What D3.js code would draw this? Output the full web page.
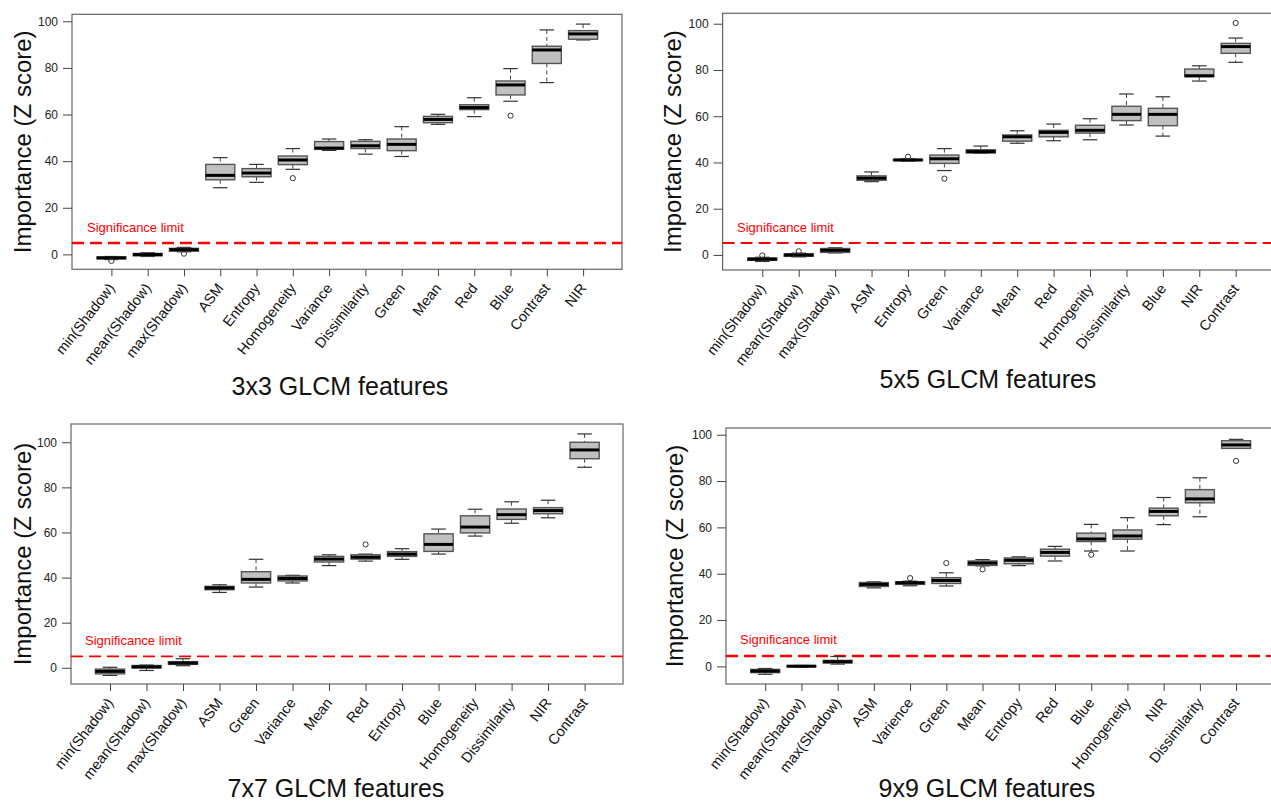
<!DOCTYPE html>
<meta charset="utf-8">
<script src="https://cdn.jsdelivr.net/npm/d3@7"></script>
<style>
    body { margin: 0; background: #fff; }
    text { font-family: 'Liberation Sans', Arial, sans-serif; }
</style>
<div id="chart"></div>
<script>
    // feature names per window size (in plotted order)
    let features3 = ["min(Shadow)", "mean(Shadow)", "max(Shadow)", "ASM", "Entropy", "Homogeneity",
        "Variance", "Dissimilarity", "Green", "Mean", "Red", "Blue", "Contrast", "NIR"];
    let features5 = ["min(Shadow)", "mean(Shadow)", "max(Shadow)", "ASM", "Entropy", "Green",
        "Variance", "Mean", "Red", "Homogenity", "Dissimilarity", "Blue", "NIR", "Contrast"];
    let features7 = ["min(Shadow)", "mean(Shadow)", "max(Shadow)", "ASM", "Green", "Variance",
        "Mean", "Red", "Entropy", "Blue", "Homogeneity", "Dissimilarity", "NIR", "Contrast"];
    let features9 = ["min(Shadow)", "mean(Shadow)", "max(Shadow)", "ASM", "Varience", "Green",
        "Mean", "Entropy", "Red", "Blue", "Homogeneity", "NIR", "Dissimilarity", "Contrast"];

    // [lower whisker, q1, median, q3, upper whisker]
    let stats3 = [[-2.2, -1.9, -1.5, -1.1, -0.9], [-0.9, -0.6, -0.1, 0.4, 0.7], [1.1, 1.4, 2.0, 2.6, 3.0],
        [28.6, 32.0, 33.9, 38.6, 41.5], [30.9, 33.3, 34.9, 36.8, 38.6], [36.5, 38.5, 40.5, 42.2, 45.4],
        [44.6, 45.1, 45.6, 48.4, 49.5], [43.0, 45.4, 46.6, 48.5, 49.2], [42.0, 44.5, 47.2, 49.5, 54.8],
        [55.8, 56.5, 57.9, 59.2, 60.1], [59.1, 62.1, 63.0, 64.2, 67.2], [65.7, 68.4, 72.7, 74.4, 79.7],
        [73.7, 81.9, 87.7, 89.3, 96.3], [92.0, 92.3, 94.6, 96.0, 98.8]];
    let stats5 = [[-2.8, -2.3, -1.8, -1.3, -1.0], [-0.8, -0.6, 0.0, 0.5, 0.8], [0.9, 1.1, 2.0, 2.8, 3.1],
        [31.7, 32.3, 33.2, 34.2, 35.9], [40.6, 40.8, 41.1, 41.3, 41.5], [36.5, 39.6, 41.6, 43.2, 46.0],
        [44.0, 44.1, 44.7, 45.5, 47.1], [48.3, 49.2, 51.1, 51.9, 53.7], [49.4, 51.1, 53.0, 53.9, 56.6],
        [49.8, 52.7, 53.9, 56.1, 58.9], [56.2, 58.1, 60.8, 64.3, 69.6], [51.4, 55.9, 60.8, 63.4, 68.4],
        [75.2, 77.1, 77.5, 80.4, 81.8], [83.3, 87.2, 90.1, 91.5, 93.8]];
    let stats7 = [[-3.4, -2.7, -1.6, -0.6, 0.2], [-1.2, -0.1, 0.4, 1.0, 1.2], [0.9, 1.5, 2.1, 2.7, 4.0],
        [33.4, 34.6, 35.4, 36.1, 36.8], [35.8, 37.6, 39.2, 42.6, 48.1], [37.6, 38.5, 39.6, 40.7, 41.0],
        [45.3, 46.9, 48.2, 49.4, 50.1], [47.3, 48.2, 49.0, 50.1, 50.4], [48.1, 49.4, 50.4, 51.5, 52.8],
        [50.4, 51.6, 54.7, 59.4, 61.5], [58.4, 59.8, 62.4, 67.4, 70.3], [64.1, 65.8, 67.9, 70.4, 73.6],
        [66.5, 68.3, 69.7, 71.0, 74.3], [88.9, 92.7, 96.6, 100.0, 103.7]];
    let stats9 = [[-3.4, -2.7, -2.0, -1.3, -0.9], [-0.3, -0.2, 0.1, 0.3, 0.4], [1.0, 1.5, 2.0, 2.6, 4.3],
        [33.9, 34.5, 35.4, 36.2, 36.5], [34.8, 35.4, 36.1, 36.5, 36.8], [34.7, 35.8, 37.1, 38.3, 40.4],
        [43.4, 43.6, 44.6, 45.5, 46.1], [43.5, 44.3, 45.8, 46.8, 47.3], [45.5, 47.6, 49.2, 50.6, 51.8],
        [49.8, 53.9, 55.0, 57.5, 61.3], [49.8, 54.9, 56.3, 58.9, 64.2], [61.2, 65.0, 66.9, 68.3, 72.9],
        [64.6, 70.6, 72.3, 76.3, 81.4], [94.1, 94.1, 95.6, 97.4, 98.0]];

    // outliers per feature
    let outliers3 = [[-2.8], [], [0.3], [], [], [32.7], [], [], [], [], [], [59.5], [], []];
    let outliers5 = [[-0.2], [1.6], [], [], [42.5], [33.0], [], [], [], [], [], [], [], [100.3]];
    let outliers7 = [[], [], [], [], [], [], [], [54.7], [], [], [], [], [], []];
    let outliers9 = [[], [], [], [], [38.1], [44.6], [41.9], [], [], [48.2], [], [], [], [88.7]];

    let titles = ["3x3 GLCM features", "5x5 GLCM features", "7x7 GLCM features", "9x9 GLCM features"];
    let significance = [4.85, 5.2, 5.05, 4.5];
    let yTicks = [0, 20, 40, 60, 80, 100];

    let svg = d3.select("#chart")
        .append("svg")
        .attr("width", 1271)
        .attr("height", 803);

    // panel geometry (pixels)
    let panels = [
        {f: features3, s: stats3, o: outliers3, left: 72, right: 622, top: 14.3, bottom: 269.3,
            x0: 111.4, x1: 583.1, ydom: [-6.4, 103], yTitleX: 23, titleX: 340, titleY: 395,
            sigX: 87, sigY: 232, sigW: 2.5},
        {f: features5, s: stats5, o: outliers5, left: 722.6, right: 1290, top: 13.3, bottom: 270,
            x0: 762.3, x1: 1235.7, ydom: [-6.5, 104.5], yTitleX: 673, titleX: 988, titleY: 388,
            sigX: 737, sigY: 232, sigW: 2},
        {f: features7, s: stats7, o: outliers7, left: 71, right: 623, top: 424, bottom: 684,
            x0: 110, x1: 584.6, ydom: [-7.2, 108.1], yTitleX: 23, titleX: 336, titleY: 797,
            sigX: 85, sigY: 645, sigW: 1.8},
        {f: features9, s: stats9, o: outliers9, left: 726, right: 1290, top: 428, bottom: 684,
            x0: 765.2, x1: 1236.1, ydom: [-7.6, 102.9], yTitleX: 675, titleX: 987, titleY: 797,
            sigX: 740, sigY: 644, sigW: 2.5}
    ];

    panels.forEach(function (p, k) {
        let g = svg.append("g");

        let x = d3.scalePoint()
            .domain(p.f)
            .range([p.x0, p.x1]);

        let y = d3.scaleLinear()
            .domain(p.ydom)
            .range([p.bottom, p.top]);

        let bw = x.step() * 0.8;

        // frame
        g.append("rect")
            .attr("x", p.left)
            .attr("y", p.top)
            .attr("width", p.right - p.left)
            .attr("height", p.bottom - p.top)
            .attr("fill", "none")
            .attr("stroke", "#666")
            .attr("stroke-width", 1.2);

        // y axis
        let ya = g.append("g")
            .attr("transform", "translate(" + p.left + ",0)")
            .call(d3.axisLeft(y).tickValues(yTicks).tickSize(9).tickPadding(5));
        ya.select(".domain").remove();
        ya.selectAll("line").attr("stroke", "#444");
        ya.selectAll("text")
            .attr("fill", "#222")
            .style("font-size", "12px")
            .style("font-family", "'Liberation Sans', Arial, sans-serif");

        // x axis ticks only, labels drawn rotated below
        let xa = g.append("g")
            .attr("transform", "translate(0," + p.bottom + ")")
            .call(d3.axisBottom(x).tickSize(7).tickFormat(""));
        xa.select(".domain").remove();
        xa.selectAll("line").attr("stroke", "#444");

        g.selectAll(".xlab")
            .data(p.f)
            .enter()
            .append("text")
            .attr("class", "xlab")
            .attr("transform", function (d) {
                return "translate(" + (x(d) + 4) + "," + (p.bottom + 19) + ") rotate(-52)";
            })
            .attr("text-anchor", "end")
            .style("font-size", "14.5px")
            .attr("fill", "#111")
            .text(function (d) { return d; });

        // axis titles
        g.append("text")
            .attr("transform", "translate(" + p.yTitleX + "," + ((p.top + p.bottom) / 2) + ") rotate(-90)")
            .attr("text-anchor", "middle")
            .attr("dy", "0.35em")
            .style("font-size", "24px")
            .attr("fill", "#111")
            .text("Importance (Z score)");

        g.append("text")
            .attr("x", p.titleX)
            .attr("y", p.titleY)
            .attr("text-anchor", "middle")
            .style("font-size", "25px")
            .attr("fill", "#111")
            .text(titles[k]);

        // significance line
        g.append("line")
            .attr("x1", p.left)
            .attr("x2", p.right)
            .attr("y1", y(significance[k]))
            .attr("y2", y(significance[k]))
            .attr("stroke", "#ff0000")
            .attr("stroke-width", p.sigW)
            .attr("stroke-dasharray", "12,6");

        g.append("text")
            .attr("x", p.sigX)
            .attr("y", p.sigY)
            .style("font-size", "13px")
            .attr("fill", "#ff0000")
            .text("Significance limit");

        // boxes
        let boxes = g.selectAll(".box")
            .data(p.f.map(function (name, i) {
                return {name: name, s: p.s[i], o: p.o[i]};
            }))
            .enter()
            .append("g")
            .attr("class", "box");

        // whiskers (dashed)
        boxes.append("line")
            .attr("x1", function (d) { return x(d.name); })
            .attr("x2", function (d) { return x(d.name); })
            .attr("y1", function (d) { return y(d.s[4]); })
            .attr("y2", function (d) { return y(d.s[3]); })
            .attr("stroke", "#444")
            .attr("stroke-dasharray", "4,3");
        boxes.append("line")
            .attr("x1", function (d) { return x(d.name); })
            .attr("x2", function (d) { return x(d.name); })
            .attr("y1", function (d) { return y(d.s[1]); })
            .attr("y2", function (d) { return y(d.s[0]); })
            .attr("stroke", "#444")
            .attr("stroke-dasharray", "4,3");

        // staples
        [0, 4].forEach(function (j) {
            boxes.append("line")
                .attr("x1", function (d) { return x(d.name) - bw / 4; })
                .attr("x2", function (d) { return x(d.name) + bw / 4; })
                .attr("y1", function (d) { return y(d.s[j]); })
                .attr("y2", function (d) { return y(d.s[j]); })
                .attr("stroke", "#333")
                .attr("stroke-width", 1.2);
        });

        boxes.append("rect")
            .attr("x", function (d) { return x(d.name) - bw / 2; })
            .attr("y", function (d) { return y(d.s[3]); })
            .attr("width", bw)
            .attr("height", function (d) { return y(d.s[1]) - y(d.s[3]); })
            .attr("fill", "#c0c0c0")
            .attr("stroke", "#555")
            .attr("stroke-width", 1.4);

        boxes.append("line")
            .attr("x1", function (d) { return x(d.name) - bw / 2; })
            .attr("x2", function (d) { return x(d.name) + bw / 2; })
            .attr("y1", function (d) { return y(d.s[2]); })
            .attr("y2", function (d) { return y(d.s[2]); })
            .attr("stroke", "#000")
            .attr("stroke-width", 3);

        boxes.selectAll(".out")
            .data(function (d) {
                return d.o.map(function (v) { return {name: d.name, v: v}; });
            })
            .enter()
            .append("circle")
            .attr("class", "out")
            .attr("cx", function (d) { return x(d.name); })
            .attr("cy", function (d) { return y(d.v); })
            .attr("r", 2.6)
            .attr("fill", "none")
            .attr("stroke", "#333")
            .attr("stroke-width", 1);
    });
</script>
